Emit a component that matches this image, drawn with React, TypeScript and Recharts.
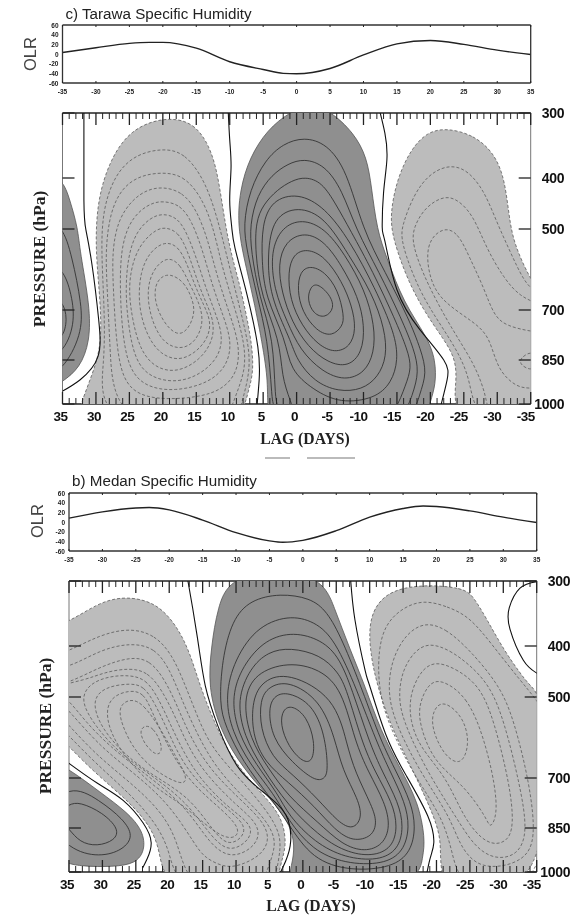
import React from "react";
import { LineChart, Line, ScatterChart, Scatter, XAxis, YAxis } from "recharts";

// contours are [lag in days, pressure in hPa], first loop of each group is the shaded edge
type Loop = number[][];

const PRESSURE_TICKS = [300, 400, 500, 700, 850, 1000];
const PRESSURE_HEIGHTS = [0, 65, 116, 197, 247, 291];
const LAG_TICKS = Array.from({ length: 71 }, (_, i) => 35 - i);
const OLR_LAG_TICKS = [-35, -30, -25, -20, -15, -10, -5, 0, 5, 10, 15, 20, 25, 30, 35];
const OLR_TICKS = [-60, -40, -20, 0, 20, 40, 60];

const TARAWA_OLR_LAGS = [-35, -30, -25, -22, -20, -15, -10, -5, -2, 0, 5, 10, 15, 20, 25, 30, 35];
const TARAWA_OLR = [3, 13, 22, 24, 24, 12, -16, -32, -40, -41, -30, -2, 21, 28, 20, 8, -1];
const MEDAN_OLR_LAGS = [-35, -30, -25, -23, -20, -15, -10, -5, -3, 0, 5, 10, 15, 18, 20, 25, 30, 35];
const MEDAN_OLR = [8, 21, 29, 30, 25, 4, -22, -39, -42, -38, -18, 10, 28, 33, 32, 23, 10, -1];

const TARAWA_ZERO: Loop[] = [
  [[31.8, 280], [31.8, 443], [31.5, 502], [30.6, 587], [29.6, 727], [29.7, 840], [32.4, 918], [36.1, 970]],
  [[10.3, 280], [10, 341], [9.8, 384], [10, 443], [9.7, 496], [9.2, 548], [7.4, 663], [5.8, 810], [5.6, 918], [6.1, 1050]],
  [[-12, 280], [-13.2, 331], [-13.5, 372], [-13, 429], [-12.8, 496], [-13.2, 530], [-15, 650], [-18.4, 758], [-22, 850], [-22.5, 918], [-21.4, 1020]],
];

const TARAWA_DARK_LEFT: Loop[] = [
  [[35, 400], [33.9, 443], [32.7, 498], [32.4, 555], [30.9, 690], [30.9, 795], [32.4, 877], [35, 925], [38.4, 970], [38.4, 390]],
  [[35, 492], [33.6, 567], [32.1, 687], [32.1, 773], [35, 890], [38, 900], [38, 480]],
  [[35, 592], [33.6, 662], [33.1, 742], [35, 835], [38, 840], [38, 585]],
  [[35, 675], [34.2, 727], [35, 789], [37, 790], [37, 670]],
];

const TARAWA_LIGHT_LEFT: Loop[] = [
  [[20, 306], [15.2, 313], [12.5, 361], [11.5, 417], [10.6, 496], [9.7, 567], [8.5, 636], [6.7, 789], [6.4, 894], [7.3, 960], [8.5, 1080], [32.4, 1080], [33, 1040], [30.4, 893], [29.1, 798], [29.4, 665], [30.1, 548], [29.8, 443], [27.9, 372], [24.9, 326]],
  [[20, 354], [16.7, 361], [13.7, 405], [11.9, 476], [10.6, 555], [8.8, 675], [7.1, 805], [7, 890], [8, 980], [9.2, 1080], [30.1, 1080], [28.6, 850], [28.8, 675], [29.2, 555], [29, 463], [27.2, 395], [24.2, 364]],
  [[20, 391], [17, 396], [14.4, 433], [12.5, 492], [11.2, 592], [9.2, 697], [7.7, 805], [7.7, 890], [9.2, 975], [10.7, 1080], [27.2, 1080], [27.9, 820], [28.3, 650], [28.6, 555], [27.9, 467], [26.1, 419], [23.4, 396]],
  [[20, 417], [17.1, 427], [14.9, 463], [13.2, 530], [11.9, 617], [10, 712], [8.5, 805], [8.8, 894], [11.2, 952], [14.4, 975], [18.9, 985], [23.4, 975], [26.1, 918], [27, 789], [27.4, 650], [27.6, 555], [26.7, 482], [24.6, 443], [22.4, 423]],
  [[20, 445], [17.4, 452], [15.6, 486], [14, 555], [12.6, 640], [10.9, 721], [9.7, 795], [10.3, 867], [13, 928], [18.2, 958], [22.7, 942], [25.2, 877], [26.1, 758], [26.4, 650], [26.3, 555], [25.2, 492], [23.4, 463], [21.6, 449]],
  [[20, 469], [17.7, 478], [16.2, 517], [14.7, 585], [13.5, 650], [11.9, 721], [11, 783], [11.7, 844], [14.4, 900], [17.9, 928], [21.9, 911], [24.2, 850], [25.2, 742], [25.6, 650], [25.2, 567], [24, 507], [21.9, 478]],
  [[19.7, 496], [17.7, 507], [16.4, 550], [15.2, 610], [13.9, 670], [12.4, 727], [12.4, 789], [14.4, 850], [17.9, 894], [21.2, 877], [23.4, 820], [24.6, 727], [25.2, 640], [24.3, 567], [22.7, 525], [21, 502]],
  [[19.7, 530], [17.7, 542], [16.4, 585], [15.2, 640], [13.9, 687], [12.6, 742], [13.7, 805], [17.1, 857], [20.4, 835], [22.5, 773], [23.7, 687], [23.4, 605], [21.9, 555]],
  [[19.4, 567], [17.4, 585], [15.9, 640], [14.4, 687], [13.9, 742], [15.2, 798], [17.4, 820], [20.1, 798], [21.9, 721], [22.4, 650], [21.5, 600]],
  [[18.9, 610], [16.8, 630], [15.5, 675], [15.2, 712], [16.3, 762], [17.9, 778], [19.9, 738], [21.2, 682], [21.2, 640], [20.3, 618]],
];

const TARAWA_DARK_MID: Loop[] = [
  [[1, 298], [-2, 288], [-5, 296], [-8.6, 331], [-10.5, 368], [-11.2, 417], [-12, 502], [-13.5, 572], [-16, 682], [-19.5, 780], [-20.8, 850], [-20.8, 935], [-20, 990], [-19, 1080], [4, 1080], [4.4, 985], [4.3, 908], [5.5, 758], [7, 630], [8.9, 502], [8.5, 423], [7, 368], [4.4, 326]],
  [[-1.1, 337], [-4.5, 347], [-7.5, 388], [-9.9, 502], [-13.2, 605], [-16.8, 727], [-18.6, 820], [-19.5, 895], [-18.4, 965], [-17, 1080], [3.3, 1080], [3.7, 970], [4.3, 789], [5.9, 667], [7.4, 555], [8, 492], [7, 423], [4.7, 372], [2, 347]],
  [[-1.1, 370], [-4.2, 380], [-6.8, 423], [-8.9, 502], [-12.3, 605], [-15.7, 727], [-17.6, 820], [-18.3, 890], [-17.4, 965], [-15.5, 1080], [2.5, 1080], [3.3, 970], [3.4, 789], [5.6, 667], [6.8, 555], [7, 492], [5.9, 433], [3.7, 395], [1.3, 378]],
  [[-1.3, 398], [-3.8, 408], [-5.9, 452], [-8, 502], [-11.4, 605], [-14.7, 727], [-16.6, 820], [-17.2, 877], [-16.3, 935], [-14.9, 1020], [-12.5, 1080], [-0.5, 1080], [1, 985], [2.2, 908], [2.5, 789], [5.3, 667], [6.2, 555], [6.1, 486], [5, 452], [2.9, 423], [0.7, 405]],
  [[-0.2, 429], [-4.2, 457], [-8, 530], [-11.7, 645], [-14.7, 770], [-15.2, 850], [-14.2, 928], [-11.7, 982], [-6.5, 998], [-2.5, 952], [1, 884], [1.6, 789], [4.7, 667], [5.2, 580], [5.2, 492], [3.7, 443]],
  [[-0.2, 455], [-4.2, 476], [-7.7, 562], [-11.3, 658], [-13.2, 758], [-13.5, 840], [-12.2, 908], [-9.8, 952], [-6.2, 958], [-2.7, 925], [0, 850], [0.9, 789], [4, 667], [4.4, 562], [3.5, 476]],
  [[-0.8, 480], [-4.2, 498], [-7.2, 562], [-10.2, 650], [-11.7, 748], [-11.6, 829], [-10.2, 894], [-7.2, 921], [-3.8, 890], [-0.5, 820], [1.4, 736], [3.4, 650], [3.9, 555], [2.2, 496]],
  [[-1.2, 507], [-4.2, 530], [-6.8, 592], [-9.2, 667], [-10.2, 748], [-9.8, 829], [-7.7, 874], [-4.7, 860], [-1.7, 811], [0.7, 736], [2.2, 658], [2.8, 587], [1.7, 530]],
  [[-1.5, 548], [-4.2, 567], [-6.8, 630], [-8.3, 691], [-8.9, 758], [-8, 811], [-5.7, 829], [-3.2, 805], [-0.8, 748], [1, 675], [1.3, 605], [0.5, 562]],
  [[-2, 590], [-4.2, 605], [-6.2, 650], [-7.1, 718], [-6.9, 748], [-5.3, 780], [-3, 764], [-0.8, 705], [-0.1, 650], [-0.5, 605]],
  [[-3, 632], [-5, 662], [-5.7, 695], [-4.3, 725], [-2.5, 712], [-1.6, 675], [-2, 645]],
];

const TARAWA_LIGHT_RIGHT: Loop[] = [
  [[-22.5, 323], [-26.5, 334], [-29.5, 361], [-31.2, 403], [-31.9, 496], [-33, 555], [-34.9, 622], [-37, 675], [-37, 1080], [-22.9, 1080], [-24.1, 908], [-23.5, 829], [-20.5, 748], [-17, 645], [-14.3, 522], [-14, 469], [-15, 403], [-17, 357], [-19.5, 329]],
  [[-22.5, 380], [-25.3, 385], [-28, 423], [-29.9, 486], [-31.9, 555], [-34, 630], [-35.6, 655], [-38.6, 675], [-38.6, 1080], [-26.4, 1080], [-26.2, 900], [-22, 758], [-18.4, 658], [-15.5, 530], [-15.8, 492], [-17.5, 433], [-19.7, 395]],
  [[-22.2, 433], [-24.4, 445], [-26.5, 476], [-28.4, 548], [-31, 622], [-33.4, 667], [-36.4, 687], [-38.6, 697], [-38.6, 1080], [-28.9, 1080], [-28.4, 970], [-26.5, 860], [-23.5, 767], [-19.5, 636], [-17.2, 537], [-17.5, 496], [-19.2, 457]],
  [[-21.8, 496], [-24.1, 507], [-25.9, 572], [-28, 645], [-29.5, 718], [-31.4, 748], [-34.9, 764], [-38.6, 773], [-38.6, 952], [-34.9, 945], [-33, 945], [-30, 884], [-28.9, 780], [-26.5, 736], [-22, 682], [-19.9, 630], [-19.2, 537]],
  [[-35.3, 820], [-33.4, 844], [-33.4, 867], [-35.3, 890], [-37, 853]],
];

const MEDAN_ZERO: Loop[] = [
  [[17.6, 281], [17.2, 300], [15.8, 386], [14.6, 478], [12.7, 572], [9.4, 680], [4.6, 764], [2.2, 826], [1.9, 911], [3, 985], [4, 1030]],
  [[-7.1, 290], [-7.8, 360], [-9.3, 447], [-10, 478], [-12.4, 592], [-15.4, 692], [-18.7, 814], [-19.6, 900], [-19, 958], [-18.1, 1060]],
  [[-35, 301], [-32.5, 311], [-30.9, 341], [-31, 374], [-33, 428], [-35, 453], [-37, 470]],
  [[37, 640], [34.9, 665], [30.8, 715], [26.9, 767], [23.9, 835], [22.7, 900], [23.3, 955], [24, 987]],
];

const MEDAN_DARK_LEFT: Loop[] = [
  [[35, 677], [30.4, 742], [26.3, 802], [23.9, 860], [23.6, 925], [25, 972], [28.4, 982], [32.9, 982], [38.6, 960], [38.6, 650]],
  [[35, 715], [30.4, 767], [26.9, 823], [25.3, 877], [26.9, 925], [30.4, 950], [35, 925], [39, 815]],
  [[33.4, 772], [30, 803], [27.5, 853], [28.1, 892], [30.8, 913], [33.4, 899], [35, 853], [37, 810], [35, 778]],
];

const MEDAN_LIGHT_LEFT: Loop[] = [
  [[26.3, 323], [21.8, 334], [18.8, 370], [16.9, 413], [15.4, 478], [13.4, 557], [10.4, 662], [5.4, 761], [3, 823], [2.4, 911], [3.4, 975], [4.2, 1080], [20.6, 1080], [21.4, 921], [22.9, 843], [25.9, 773], [30.8, 692], [34.9, 625], [38.6, 560], [38.6, 374], [34.9, 363], [30.4, 332]],
  [[25.9, 372], [22.1, 383], [19.6, 417], [17.9, 467], [16.1, 535], [13.9, 622], [9.4, 703], [5.7, 789], [3.1, 874], [3.6, 958], [4.6, 1080], [18.7, 1080], [19.9, 925], [22.1, 832], [25.9, 747], [30.8, 667], [34.9, 598], [38.6, 535], [38.6, 425], [35, 410], [30.4, 383]],
  [[25.9, 395], [22.1, 403], [19.9, 447], [18.4, 496], [16.4, 572], [13.4, 667], [9.4, 748], [6.1, 811], [3.9, 884], [4.6, 952], [6.7, 1080], [16.9, 1080], [18.7, 891], [21.4, 795], [25.9, 712], [30.8, 645], [34.9, 572], [38.6, 507], [38.6, 445], [35, 443], [30.4, 408]],
  [[25.9, 421], [22.9, 427], [20.6, 467], [18.8, 522], [16.9, 597], [13.9, 680], [9.4, 764], [6.1, 826], [4.9, 884], [6.1, 942], [9.4, 979], [11.7, 985], [14.7, 952], [16.1, 908], [19.9, 780], [25.1, 690], [30.4, 622], [34.9, 535], [38.6, 480], [35, 473], [30.4, 441]],
  [[25.9, 443], [23.2, 451], [21.1, 486], [19.1, 548], [17.2, 622], [14.6, 690], [10.1, 780], [6.4, 840], [6.7, 908], [10.6, 958], [13.9, 908], [17.6, 780], [24.4, 680], [28.9, 622], [32.6, 560], [35, 507], [37.8, 480], [32.6, 467], [29.6, 451]],
  [[25.9, 457], [23.5, 465], [21.7, 500], [19.9, 565], [17.9, 635], [15.4, 703], [11.2, 789], [7.5, 840], [7.9, 891], [10.9, 935], [13.6, 884], [17.3, 773], [22.9, 690], [27.4, 640], [31.1, 572], [33.4, 507], [31.9, 473], [28.9, 459]],
  [[25.9, 473], [23.8, 478], [22.1, 517], [20.3, 580], [18.4, 650], [15.8, 712], [11.6, 789], [8.5, 840], [9, 884], [11.2, 911], [13.3, 864], [16.9, 758], [22.1, 697], [26.6, 645], [30.4, 572], [31.6, 507], [29.6, 480]],
  [[25.9, 486], [23.8, 492], [22.6, 535], [20.9, 597], [18.7, 667], [15.8, 733], [12.1, 795], [9.4, 850], [10, 884], [11.8, 884], [14.6, 840], [18.4, 773], [22.9, 721], [27.8, 625], [29.6, 550], [28.9, 500]],
  [[25.6, 505], [23.9, 517], [21.4, 575], [19.1, 645], [17.2, 700], [17.9, 724], [21.8, 687], [25.4, 632], [27.7, 545], [27.1, 515]],
  [[23.9, 570], [22.4, 573], [20.9, 622], [21.5, 648], [23.2, 628], [24.5, 590]],
];

const MEDAN_DARK_MID: Loop[] = [
  [[10.6, 285], [-2.6, 285], [-4.7, 341], [-7.1, 408], [-9.3, 478], [-11.6, 582], [-14.6, 677], [-17.3, 773], [-18.3, 887], [-18, 945], [-17, 1060], [2.7, 1060], [1.6, 975], [1.2, 908], [1.9, 843], [3.9, 783], [9, 677], [12.4, 582], [14.2, 480], [13.7, 402], [12.8, 341]],
  [[3.4, 319], [-1.1, 326], [-3.6, 346], [-5.9, 390], [-8.9, 486], [-11.7, 610], [-14, 685], [-16.2, 773], [-16.9, 846], [-16.2, 932], [-13.4, 985], [-7.1, 997], [-1.4, 958], [2.2, 836], [4.9, 758], [9, 660], [11.6, 572], [12.5, 517], [12.1, 427], [10.6, 360], [7.9, 329]],
  [[2.2, 352], [-1.8, 362], [-4.8, 390], [-8.1, 486], [-11, 610], [-13.1, 685], [-15.3, 773], [-16, 846], [-15.1, 932], [-12, 975], [-6.3, 972], [-1.4, 925], [2.2, 826], [4.3, 748], [7.9, 667], [10.6, 585], [11.6, 507], [10.6, 437], [7.2, 372]],
  [[1.9, 378], [-2.3, 388], [-5.3, 417], [-7.4, 486], [-9.9, 610], [-11.9, 685], [-14.3, 773], [-15.1, 846], [-14.3, 925], [-11.3, 962], [-6.3, 952], [-1.8, 900], [2.2, 811], [3.7, 748], [7, 667], [9.7, 590], [10.7, 507], [9.4, 447], [6.1, 393]],
  [[1.9, 403], [-2.6, 417], [-5.3, 451], [-6.6, 486], [-8.8, 610], [-10.8, 685], [-13.4, 773], [-14.2, 846], [-13.4, 918], [-10.4, 948], [-6.3, 932], [-2.3, 874], [2.2, 783], [6.1, 675], [8.8, 597], [9.9, 507], [7.9, 443], [5.2, 411]],
  [[2.2, 431], [-2.6, 445], [-5.9, 486], [-7.8, 610], [-9.8, 685], [-12.3, 773], [-13.1, 846], [-12, 908], [-9.3, 932], [-5.9, 908], [-2.3, 833], [2.2, 755], [5.2, 675], [7.9, 605], [9, 507], [7.2, 453]],
  [[2.2, 451], [-4.8, 500], [-6.6, 617], [-7.8, 685], [-10.4, 786], [-11.1, 833], [-10.4, 880], [-7.5, 897], [-4.8, 857], [-1.8, 786], [2.2, 712], [5.7, 662], [7.6, 592], [7.6, 507], [6, 467]],
  [[2.2, 467], [-2.6, 507], [-4.8, 602], [-5.9, 680], [-8.3, 764], [-8.9, 820], [-7.5, 857], [-5.3, 833], [-2.3, 764], [1.6, 690], [4.6, 650], [6.4, 577], [6.4, 507], [5.2, 480]],
  [[2.2, 490], [-1.4, 517], [-3.3, 592], [-3.8, 680], [-3.3, 703], [-1.8, 710], [1.6, 662], [4.6, 602], [5.2, 527], [4.2, 496]],
  [[1.6, 520], [-0.6, 548], [-1.8, 610], [-1.5, 660], [0, 662], [2.2, 622], [3.4, 567], [3, 530]],
];

const MEDAN_LIGHT_RIGHT: Loop[] = [
  [[-17.5, 305], [-24.1, 310], [-25.6, 325], [-27.6, 360], [-30.1, 408], [-32.5, 453], [-34, 478], [-36.3, 507], [-37, 1080], [-22, 1080], [-20.5, 993], [-20.7, 900], [-19.9, 826], [-16.8, 692], [-13.4, 582], [-11.1, 478], [-10, 408], [-9.9, 355], [-12.3, 317]],
  [[-18.1, 329], [-21.6, 339], [-25, 355], [-28.6, 402], [-32.5, 467], [-35, 507], [-37, 560], [-37, 1080], [-23.8, 1080], [-22.3, 925], [-20.8, 814], [-16.3, 685], [-12.5, 557], [-11.3, 478], [-11.3, 408], [-12.3, 367], [-14.9, 341]],
  [[-18.1, 363], [-21.3, 372], [-25, 408], [-29.5, 478], [-31.6, 557], [-34, 721], [-34.9, 891], [-33.1, 958], [-29.5, 985], [-26, 979], [-23.5, 911], [-22, 814], [-17.5, 685], [-13.6, 557], [-12.7, 486], [-13.3, 427], [-15.3, 383]],
  [[-19, 395], [-22, 408], [-25, 437], [-28, 478], [-30.1, 557], [-32.5, 721], [-33.7, 867], [-32.1, 945], [-28.6, 958], [-25.6, 911], [-23.1, 823], [-18.6, 685], [-14.9, 557], [-14.3, 496], [-14.9, 447], [-16.8, 408]],
  [[-19.6, 429], [-22.8, 443], [-26.5, 478], [-28.6, 557], [-31, 721], [-31.6, 843], [-30.6, 900], [-27.6, 911], [-24.1, 823], [-21.6, 700], [-17.5, 625], [-16, 557], [-16, 496], [-17.5, 451]],
  [[-20.5, 463], [-24.6, 498], [-27.1, 600], [-28.8, 721], [-29.1, 814], [-28, 853], [-27.6, 823], [-24.1, 721], [-19.6, 662], [-17.4, 567], [-17.4, 517], [-18.7, 476]],
  [[-21.1, 507], [-24.1, 550], [-25, 617], [-23.7, 672], [-21.1, 645], [-19.2, 575], [-19.5, 530]],
];

const LIGHT_EDGE = { fill: "#bcbcbc", stroke: "#5a5a5a", strokeWidth: 0.8, strokeDasharray: "3 2" };
const LIGHT_LINE = { fill: "none", stroke: "#5a5a5a", strokeWidth: 0.8, strokeDasharray: "3 2" };
const DARK_EDGE = { fill: "#8f8f8f", stroke: "#555", strokeWidth: 0.8 };
const DARK_LINE = { fill: "none", stroke: "#333", strokeWidth: 0.9 };
const ZERO_LINE = { fill: "none", stroke: "#111", strokeWidth: 1.1 };
const LABEL_FONT = "'Liberation Sans', Arial, sans-serif";
const SERIF_FONT = "'Liberation Serif', 'Times New Roman', serif";

const heightOf = (p: number): number => {
  let i = 0;
  while (i < PRESSURE_TICKS.length - 2 && p > PRESSURE_TICKS[i + 1]) i++;
  const t = (p - PRESSURE_TICKS[i]) / (PRESSURE_TICKS[i + 1] - PRESSURE_TICKS[i]);
  return PRESSURE_HEIGHTS[i] + t * (PRESSURE_HEIGHTS[i + 1] - PRESSURE_HEIGHTS[i]);
};

const toPoints = (loop: Loop) => loop.map(([lag, p]) => ({ lag, height: heightOf(p) }));

const noMarker = () => <g />;

const contourGroup = (name: string, loops: Loop[], edge: object, inner: object) =>
  loops.map((loop, i) => (
    <Scatter
      key={`${name}-${i}`}
      data={toPoints(loop)}
      xAxisId="bottom"
      yAxisId="left"
      shape={noMarker}
      line={i === 0 ? edge : inner}
      lineType="joint"
      lineJointType="basisClosed"
      isAnimationActive={false}
    />
  ));

const zeroLines = (name: string, lines: Loop[]) =>
  lines.map((line, i) => (
    <Scatter
      key={`${name}-${i}`}
      data={toPoints(line)}
      xAxisId="bottom"
      yAxisId="left"
      shape={noMarker}
      line={ZERO_LINE}
      lineType="joint"
      lineJointType="natural"
      isAnimationActive={false}
    />
  ));

const LagTick = ({ x, y, payload, side }: any) => {
  const major = payload.value % 5 === 0;
  const len = major ? 12 : 6;
  const dir = side === "top" ? 1 : -1;
  const dx = payload.value < 0 ? (payload.value <= -10 ? -5 : -3) : -2;
  return (
    <g>
      <line x1={x} x2={x} y1={y} y2={y + dir * len} stroke="#222" strokeWidth={major ? 1.3 : 1} />
      {side !== "top" && major && (
        <text x={x + dx} y={y + 17} textAnchor="middle" fontFamily={LABEL_FONT} fontWeight="bold" fontSize={13.5} letterSpacing={-0.5} fill="#111">
          {payload.value}
        </text>
      )}
    </g>
  );
};

const PressureTick = ({ x, y, payload, side }: any) => {
  const dir = side === "left" ? 1 : -1;
  const label = PRESSURE_TICKS[PRESSURE_HEIGHTS.indexOf(payload.value)];
  return (
    <g>
      <line x1={x} x2={x + dir * 12} y1={y} y2={y} stroke="#222" strokeWidth={1.3} />
      {side === "right" && (
        <text x={x + 33.5} y={y + 5} textAnchor="end" fontFamily={LABEL_FONT} fontWeight="bold" fontSize={14} letterSpacing={-0.3} fill="#111">
          {label}
        </text>
      )}
    </g>
  );
};

// axes need a size above zero to be drawn at all, so each takes 1px off the margins
const ContourPanel = ({ left, right, top, children }: any) => (
  <div style={{ position: "absolute", left: 0, top: top - 10 }}>
    <ScatterChart width={577} height={340} margin={{ left: left - 1, right: 577 - right - 1, top: 9, bottom: 38 }}>
      <XAxis xAxisId="bottom" type="number" dataKey="lag" domain={[-35, 35]} reversed allowDataOverflow ticks={LAG_TICKS} interval={0} height={1} tickSize={0} tickMargin={0} tickLine={false} axisLine={{ stroke: "#222", strokeWidth: 1.5 }} tick={<LagTick side="bottom" />} />
      <XAxis xAxisId="top" orientation="top" type="number" dataKey="lag" domain={[-35, 35]} reversed allowDataOverflow ticks={LAG_TICKS} interval={0} height={1} tickSize={0} tickMargin={0} tickLine={false} axisLine={{ stroke: "#222", strokeWidth: 1.5 }} tick={<LagTick side="top" />} />
      <YAxis yAxisId="left" type="number" dataKey="height" domain={[0, 291]} reversed allowDataOverflow ticks={PRESSURE_HEIGHTS} interval={0} width={1} tickSize={0} tickMargin={0} tickLine={false} axisLine={{ stroke: "#777" }} tick={<PressureTick side="left" />} />
      <YAxis yAxisId="right" orientation="right" type="number" dataKey="height" domain={[0, 291]} reversed allowDataOverflow ticks={PRESSURE_HEIGHTS} interval={0} width={1} tickSize={0} tickMargin={0} tickLine={false} axisLine={{ stroke: "#777" }} tick={<PressureTick side="right" />} />
      {children}
    </ScatterChart>
  </div>
);

const OlrXTick = ({ x, y, payload }: any) => (
  <g>
    <line x1={x} x2={x} y1={y} y2={y - 2} stroke="#222" />
    <text x={x} y={y + 11} textAnchor="middle" fontFamily={LABEL_FONT} fontWeight="bold" fontSize={6.5} fill="#222">
      {payload.value}
    </text>
  </g>
);

const OlrTopTick = ({ x, y }: any) => <line x1={x} x2={x} y1={y} y2={y + 2} stroke="#222" />;

const OlrYTick = ({ x, y, payload }: any) => (
  <text x={x - 4} y={y + 2.5} textAnchor="end" fontFamily={LABEL_FONT} fontWeight="bold" fontSize={6.5} fill="#222">
    {payload.value}
  </text>
);

const OlrPanel = ({ left, right, top, lags, values }: any) => {
  const data = lags.map((lag: number, i: number) => ({ lag, olr: values[i] }));
  return (
    <div style={{ position: "absolute", left: 0, top: top - 5 }}>
      <LineChart width={577} height={85} data={data} margin={{ left: left - 1, right: 577 - right - 1, top: 4, bottom: 21 }}>
        <XAxis xAxisId="bottom" type="number" dataKey="lag" domain={[-35, 35]} ticks={OLR_LAG_TICKS} interval={0} height={1} tickSize={0} tickMargin={0} tickLine={false} axisLine={{ stroke: "#333", strokeWidth: 1.3 }} tick={<OlrXTick />} />
        <XAxis xAxisId="top" orientation="top" type="number" dataKey="lag" domain={[-35, 35]} ticks={OLR_LAG_TICKS} interval={0} height={1} tickSize={0} tickMargin={0} tickLine={false} axisLine={{ stroke: "#333", strokeWidth: 1.3 }} tick={<OlrTopTick />} />
        <YAxis yAxisId="left" type="number" domain={[-60, 60]} ticks={OLR_TICKS} interval={0} width={1} tickSize={0} tickMargin={0} tickLine={false} axisLine={{ stroke: "#333", strokeWidth: 1.3 }} tick={<OlrYTick />} />
        <YAxis yAxisId="right" orientation="right" type="number" domain={[-60, 60]} ticks={OLR_TICKS} width={1} tick={false} tickLine={false} axisLine={{ stroke: "#333", strokeWidth: 1.3 }} />
        <Line xAxisId="bottom" yAxisId="left" dataKey="olr" type="monotone" stroke="#222" strokeWidth={1.4} dot={false} isAnimationActive={false} />
      </LineChart>
    </div>
  );
};

const Caption = ({ x, y, size, font, weight, color, rotate, children }: any) => (
  <div
    style={{
      position: "absolute",
      left: x,
      top: y,
      fontFamily: font,
      fontSize: size,
      fontWeight: weight,
      color,
      lineHeight: 1,
      whiteSpace: "nowrap",
      transform: rotate ? "translate(-50%, -50%) rotate(-90deg)" : "translate(-50%, -50%)",
    }}
  >
    {children}
  </div>
);

export default function App() {
  return (
    <div style={{ position: "absolute", left: 0, top: 0, width: 577, height: 916, background: "#fff", overflow: "hidden", filter: "blur(0.35px)" }}>
      <Caption x={158.5} y={14} size={15.2} font={LABEL_FONT} color="#222">c) Tarawa Specific Humidity</Caption>
      <Caption x={30} y={54} size={16.5} font={LABEL_FONT} color="#444" rotate>OLR</Caption>
      <OlrPanel left={62.5} right={530.7} top={25} lags={TARAWA_OLR_LAGS} values={TARAWA_OLR} />
      <ContourPanel left={62.5} right={530.7} top={113}>
        {contourGroup("tl", TARAWA_LIGHT_LEFT, LIGHT_EDGE, LIGHT_LINE)}
        {contourGroup("tr", TARAWA_LIGHT_RIGHT, LIGHT_EDGE, LIGHT_LINE)}
        {contourGroup("td", TARAWA_DARK_LEFT, DARK_EDGE, DARK_LINE)}
        {contourGroup("tm", TARAWA_DARK_MID, DARK_EDGE, DARK_LINE)}
        {zeroLines("tz", TARAWA_ZERO)}
      </ContourPanel>
      <Caption x={40} y={259} size={17.5} font={SERIF_FONT} weight="bold" color="#222" rotate>PRESSURE (hPa)</Caption>
      <Caption x={305} y={439} size={15.7} font={SERIF_FONT} weight="bold" color="#222">LAG (DAYS)</Caption>
      {/* leftover edge of an older axis title in the scan, just faint strokes */}
      <div style={{ position: "absolute", left: 265, top: 457, width: 25, height: 1.5, background: "#bbb" }} />
      <div style={{ position: "absolute", left: 307, top: 457, width: 48, height: 1.5, background: "#bbb" }} />

      <Caption x={164.5} y={481} size={15.2} font={LABEL_FONT} color="#222">b) Medan Specific Humidity</Caption>
      <Caption x={37} y={521} size={16.5} font={LABEL_FONT} color="#444" rotate>OLR</Caption>
      <OlrPanel left={69} right={536.7} top={492.5} lags={MEDAN_OLR_LAGS} values={MEDAN_OLR} />
      <ContourPanel left={69} right={536.7} top={581}>
        {contourGroup("ml", MEDAN_LIGHT_LEFT, LIGHT_EDGE, LIGHT_LINE)}
        {contourGroup("mr", MEDAN_LIGHT_RIGHT, LIGHT_EDGE, LIGHT_LINE)}
        {contourGroup("md", MEDAN_DARK_LEFT, DARK_EDGE, DARK_LINE)}
        {contourGroup("mm", MEDAN_DARK_MID, DARK_EDGE, DARK_LINE)}
        {zeroLines("mz", MEDAN_ZERO)}
      </ContourPanel>
      <Caption x={46} y={726} size={17.5} font={SERIF_FONT} weight="bold" color="#222" rotate>PRESSURE (hPa)</Caption>
      <Caption x={311} y={906} size={15.7} font={SERIF_FONT} weight="bold" color="#222">LAG (DAYS)</Caption>
    </div>
  );
}
